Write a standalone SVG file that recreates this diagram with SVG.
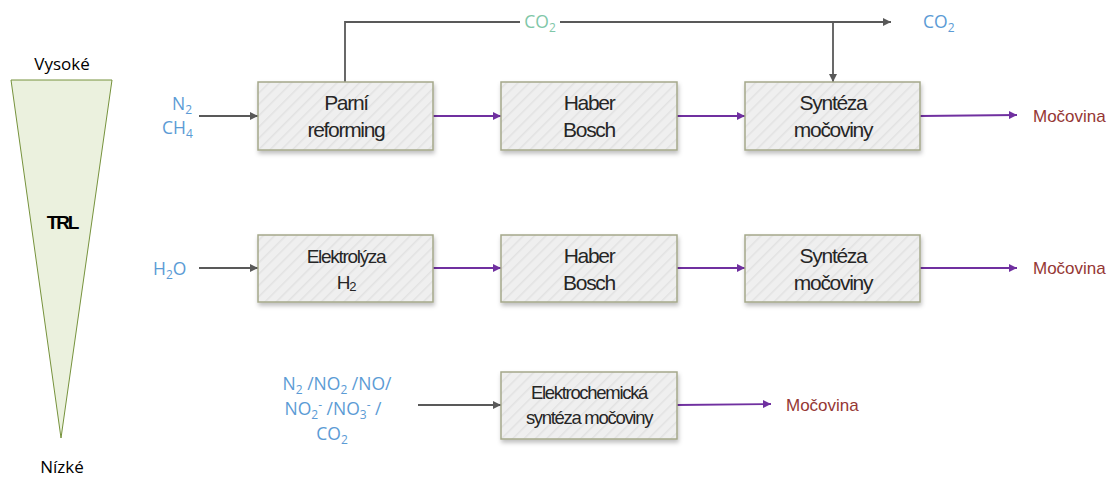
<svg xmlns="http://www.w3.org/2000/svg" width="1114" height="479" viewBox="0 0 1114 479">
<defs>
<pattern id="hatch" patternUnits="userSpaceOnUse" width="8" height="8" patternTransform="rotate(45)">
<rect width="8" height="8" fill="#efefef"/>
<line x1="0" y1="0" x2="0" y2="8" stroke="#e2e2e2" stroke-width="3"/>
</pattern>
<filter id="sh" x="-10%" y="-10%" width="130%" height="140%">
<feDropShadow dx="1" dy="3" stdDeviation="2" flood-color="#000" flood-opacity="0.25"/>
</filter>
<marker id="ag" viewBox="0 0 10 10" refX="10" refY="5" markerWidth="8" markerHeight="8" markerUnits="userSpaceOnUse" orient="auto"><path d="M0,0 L10,5 L0,10 z" fill="#595959"/></marker>
<marker id="ap" viewBox="0 0 10 10" refX="10" refY="5" markerWidth="8" markerHeight="8" markerUnits="userSpaceOnUse" orient="auto"><path d="M0,0 L10,5 L0,10 z" fill="#7030a0"/></marker>
</defs>
<style>
.box{fill:url(#hatch);stroke:#a5a88a;stroke-width:1.5;filter:url(#sh)}
.bt{font-family:"Liberation Sans",Arial,sans-serif;font-size:21px;fill:#262626;text-anchor:middle;letter-spacing:-1.3px}
.in{font-family:"Open Sans","Noto Sans",sans-serif;font-size:17.5px;fill:#5b9bd5}
.out{font-family:"Liberation Sans",Arial,sans-serif;font-size:17px;fill:#953734}
.g{stroke:#595959;stroke-width:1.8;fill:none}
.p{stroke:#7030a0;stroke-width:1.8;fill:none}
.lbl{font-family:"Open Sans","Noto Sans",sans-serif;font-size:17px;fill:#000;text-anchor:middle}
</style>
<g id="trl">
<polygon points="11,80 112,80 61,438" fill="#ebf1de" stroke="#76923c" stroke-width="1"/>
<text x="62" y="70" class="lbl">Vysoké</text>
<text x="62" y="473" class="lbl">Nízké</text>
<text x="62" y="229" font-family="Liberation Sans,Arial,sans-serif" font-size="19" font-weight="bold" text-anchor="middle" letter-spacing="-2.2">TRL</text>
</g>
<g id="connectors">
<line class="g" x1="199" y1="116" x2="258" y2="116" marker-end="url(#ag)"/>
<polyline class="g" points="345,82 345,22 520,22"/>
<line class="g" x1="560" y1="22" x2="891" y2="22" marker-end="url(#ag)"/>
<line class="g" x1="833" y1="22" x2="833" y2="82" marker-end="url(#ag)"/>
<line class="p" x1="433" y1="116" x2="501" y2="116" marker-end="url(#ap)"/>
<line class="p" x1="677" y1="116" x2="745" y2="116" marker-end="url(#ap)"/>
<line class="p" x1="920" y1="116" x2="1017" y2="115" marker-end="url(#ap)"/>
<line class="g" x1="199" y1="268" x2="258" y2="268" marker-end="url(#ag)"/>
<line class="p" x1="433" y1="268" x2="501" y2="268" marker-end="url(#ap)"/>
<line class="p" x1="677" y1="268" x2="745" y2="268" marker-end="url(#ap)"/>
<line class="p" x1="920" y1="268" x2="1017" y2="268" marker-end="url(#ap)"/>
<line class="g" x1="418" y1="405" x2="501" y2="405" marker-end="url(#ag)"/>
<line class="p" x1="677" y1="405" x2="771" y2="404" marker-end="url(#ap)"/>
</g>
<g id="labels">
<text x="540" y="28" font-family="Open Sans,Noto Sans,sans-serif" font-size="17.5" fill="#7fc7a8" text-anchor="middle">CO<tspan font-size="12" dy="4">2</tspan></text>
<text x="923" y="28" class="in">CO<tspan font-size="12" dy="4">2</tspan></text>
<text x="172" y="110" class="in">N<tspan font-size="12" dy="4">2</tspan></text>
<text x="162" y="134" class="in">CH<tspan font-size="12" dy="4">4</tspan></text>
<text x="153" y="275" class="in">H<tspan font-size="12" dy="4">2</tspan><tspan dy="-4">O</tspan></text>
<text x="337" y="390" class="in" text-anchor="middle">N<tspan font-size="12" dy="4">2</tspan><tspan dy="-4"> /NO</tspan><tspan font-size="12" dy="4">2</tspan><tspan dy="-4"> /NO/</tspan></text>
<text x="333" y="415" class="in" text-anchor="middle">NO<tspan font-size="12" dy="4">2</tspan><tspan font-size="12" dy="-10">-</tspan><tspan dy="6"> /NO</tspan><tspan font-size="12" dy="4">3</tspan><tspan font-size="12" dy="-10">-</tspan><tspan dy="6"> /</tspan></text>
<text x="332" y="440" class="in" text-anchor="middle">CO<tspan font-size="12" dy="4">2</tspan></text>
<text x="1033" y="122" class="out">Močovina</text>
<text x="1033" y="274" class="out">Močovina</text>
<text x="786" y="411" class="out">Močovina</text>
</g>
<g id="parni">
<rect class="box" x="258" y="82" width="175" height="68"/>
<text class="bt" x="346" y="110">Parní</text>
<text class="bt" x="346" y="137">reforming</text>
</g>
<g id="haber1">
<rect class="box" x="501" y="82" width="176" height="68"/>
<text class="bt" x="589" y="110">Haber</text>
<text class="bt" x="589" y="137">Bosch</text>
</g>
<g id="synteza1">
<rect class="box" x="745" y="82" width="175" height="68"/>
<text class="bt" x="833" y="110">Syntéza</text>
<text class="bt" x="833" y="137">močoviny</text>
</g>
<g id="elektrolyza">
<rect class="box" x="258" y="235" width="175" height="67"/>
<text class="bt" x="346" y="263" style="font-size:19px">Elektrolýza</text>
<text class="bt" x="346" y="289" style="font-size:19px">H<tspan font-size="13" dy="2">2</tspan></text>
</g>
<g id="haber2">
<rect class="box" x="501" y="235" width="176" height="67"/>
<text class="bt" x="589" y="263">Haber</text>
<text class="bt" x="589" y="290">Bosch</text>
</g>
<g id="synteza2">
<rect class="box" x="745" y="235" width="175" height="67"/>
<text class="bt" x="833" y="263">Syntéza</text>
<text class="bt" x="833" y="290">močoviny</text>
</g>
<g id="elektrochem">
<rect class="box" x="501" y="372" width="176" height="67"/>
<text class="bt" x="589" y="399" style="font-size:18.5px">Elektrochemická</text>
<text class="bt" x="589" y="424" style="font-size:18.5px">syntéza močoviny</text>
</g>
</svg>
